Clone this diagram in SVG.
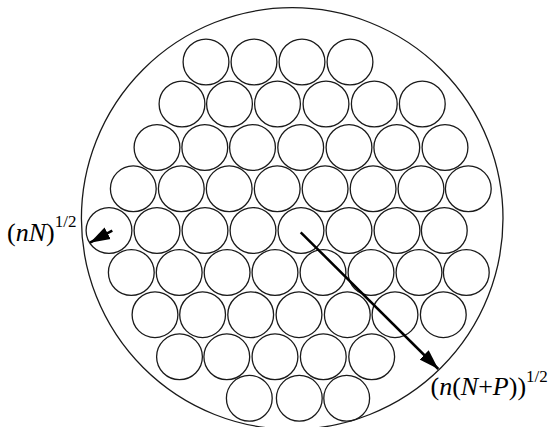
<svg xmlns="http://www.w3.org/2000/svg" width="550" height="427" viewBox="0 0 550 427">
<defs>
<style>
.c{fill:none;stroke:#1a1a1a;stroke-width:1.3}
.b{fill:none;stroke:#1a1a1a;stroke-width:1.3}
.a{stroke:#000;stroke-width:2.5;fill:none}
.t{font-family:"Liberation Serif","Times New Roman",serif;fill:#000}
.i{font-style:italic}
</style>
<marker id="ah" markerUnits="userSpaceOnUse" markerWidth="22" markerHeight="22" viewBox="0 0 22 22" refX="20" refY="11" orient="auto">
<path d="M0,4.5 L20,11 L0,17.5 Z" fill="#000"/>
</marker>
</defs>
<rect width="550" height="427" fill="#fff"/>
<g id="outer"><circle class="b" cx="292.2" cy="218.5" r="210.8"/></g>
<g id="row1">
<circle class="c" cx="206" cy="62" r="22.9"/>
<circle class="c" cx="254" cy="62" r="22.9"/>
<circle class="c" cx="302" cy="62" r="22.9"/>
<circle class="c" cx="350" cy="62" r="22.9"/>
</g>
<g id="row2">
<circle class="c" cx="182" cy="104" r="22.9"/>
<circle class="c" cx="229.5" cy="104" r="22.9"/>
<circle class="c" cx="277.5" cy="104" r="22.9"/>
<circle class="c" cx="326" cy="104" r="22.9"/>
<circle class="c" cx="374.3" cy="104" r="22.9"/>
<circle class="c" cx="422.3" cy="104" r="22.9"/>
</g>
<g id="row3">
<circle class="c" cx="157" cy="147.5" r="22.9"/>
<circle class="c" cx="204.8" cy="147.5" r="22.9"/>
<circle class="c" cx="252.5" cy="147.5" r="22.9"/>
<circle class="c" cx="300.7" cy="147.5" r="22.9"/>
<circle class="c" cx="349" cy="147.5" r="22.9"/>
<circle class="c" cx="396.8" cy="147.5" r="22.9"/>
<circle class="c" cx="445" cy="147.5" r="22.9"/>
</g>
<g id="row4">
<circle class="c" cx="133.3" cy="188.8" r="22.9"/>
<circle class="c" cx="181.3" cy="188.8" r="22.9"/>
<circle class="c" cx="229.2" cy="188.8" r="22.9"/>
<circle class="c" cx="277.2" cy="188.8" r="22.9"/>
<circle class="c" cx="325.1" cy="188.8" r="22.9"/>
<circle class="c" cx="373.1" cy="188.8" r="22.9"/>
<circle class="c" cx="421" cy="188.8" r="22.9"/>
<circle class="c" cx="468.3" cy="188.8" r="22.9"/>
</g>
<g id="row5">
<circle class="c" cx="109" cy="230.5" r="22.9"/>
<circle class="c" cx="157" cy="230.5" r="22.9"/>
<circle class="c" cx="205" cy="230.5" r="22.9"/>
<circle class="c" cx="253" cy="230.5" r="22.9"/>
<circle class="c" cx="301" cy="230.5" r="22.9"/>
<circle class="c" cx="349" cy="230.5" r="22.9"/>
<circle class="c" cx="397" cy="230.5" r="22.9"/>
<circle class="c" cx="444.3" cy="230.5" r="22.9"/>
</g>
<g id="row6">
<circle class="c" cx="131.3" cy="272.5" r="22.9"/>
<circle class="c" cx="179.2" cy="272.5" r="22.9"/>
<circle class="c" cx="227.1" cy="272.5" r="22.9"/>
<circle class="c" cx="275" cy="272.5" r="22.9"/>
<circle class="c" cx="323" cy="272.5" r="22.9"/>
<circle class="c" cx="371" cy="272.5" r="22.9"/>
<circle class="c" cx="419" cy="272.5" r="22.9"/>
<circle class="c" cx="466.3" cy="272.5" r="22.9"/>
</g>
<g id="row7">
<circle class="c" cx="155" cy="314.7" r="22.9"/>
<circle class="c" cx="202.6" cy="314.7" r="22.9"/>
<circle class="c" cx="250.7" cy="314.7" r="22.9"/>
<circle class="c" cx="299" cy="314.7" r="22.9"/>
<circle class="c" cx="347.3" cy="314.7" r="22.9"/>
<circle class="c" cx="395" cy="314.7" r="22.9"/>
<circle class="c" cx="443.3" cy="314.7" r="22.9"/>
</g>
<g id="row8">
<circle class="c" cx="179.5" cy="356.8" r="22.9"/>
<circle class="c" cx="226.8" cy="356.8" r="22.9"/>
<circle class="c" cx="275" cy="356.8" r="22.9"/>
<circle class="c" cx="323.3" cy="356.8" r="22.9"/>
<circle class="c" cx="371.7" cy="356.8" r="22.9"/>
</g>
<g id="row9">
<circle class="c" cx="249.3" cy="398.3" r="22.9"/>
<circle class="c" cx="299.3" cy="398.3" r="22.9"/>
<circle class="c" cx="346.7" cy="398.3" r="22.9"/>
</g>
<g id="connectors">
<line class="a" x1="300.7" y1="232.3" x2="438.3" y2="369" marker-end="url(#ah)"/>
<line class="a" x1="112.3" y1="230.7" x2="90" y2="242.7" marker-end="url(#ah)"/>
</g>
<g id="label-nN">
<text class="t" x="7" y="240.5" font-size="26">(<tspan class="i">nN</tspan>)<tspan font-size="17" dy="-13.5">1/2</tspan></text>
</g>
<g id="label-nNP">
<text class="t" x="430.5" y="395" font-size="26">(<tspan class="i">n</tspan>(<tspan class="i">N</tspan>+<tspan class="i">P</tspan>))<tspan font-size="17" dy="-13.5">1/2</tspan></text>
</g>
</svg>
